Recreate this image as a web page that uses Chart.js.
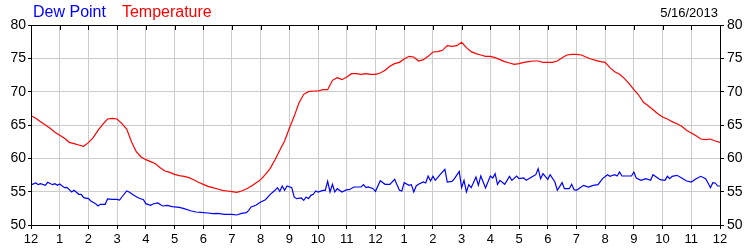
<!DOCTYPE html>
<html>
<head>
<meta charset="utf-8">
<script src="https://cdn.jsdelivr.net/npm/chart.js@4.4.1/dist/chart.umd.min.js"></script>
<style>
  body { margin: 0; background: #fff; }
</style>
</head>
<body>
<canvas id="myChart" width="750" height="250"></canvas>
<script>
// hour labels along the bottom axis
const hourLabels = ['12', '1', '2', '3', '4', '5', '6', '7', '8', '9', '10', '11',
                    '12', '1', '2', '3', '4', '5', '6', '7', '8', '9', '10', '11', '12'];
const yTicks = [50, 55, 60, 65, 70, 75, 80];
const dateText = '5/16/2013';

// temperature, one reading every 10 minutes from midnight
const TEMP_STEP = 10;
const temperature = [
  66.4, 66.0, 65.5, 65.0, 64.5, 63.9,
  63.45, 63.0, 62.4, 62.2, 62.0, 61.8,
  62.35, 63.1, 64.2, 65.1, 65.9, 66.0,
  65.9, 65.2, 64.4, 62.5, 61.0, 60.2,
  59.8, 59.5, 59.2, 58.6, 58.1, 57.9,
  57.6, 57.4, 57.3, 57.1, 56.8, 56.4,
  56.1, 55.8, 55.6, 55.4, 55.2, 55.1,
  55.0, 54.9, 55.1, 55.4, 55.8, 56.3,
  56.8, 57.6, 58.5, 59.8, 61.2, 62.6,
  64.5, 66.3, 68.3, 69.6, 70.0, 70.1,
  70.1, 70.3, 70.3, 71.7, 72.1, 71.8,
  72.2, 72.7, 72.7, 72.6, 72.7, 72.6,
  72.6, 72.8, 73.2, 73.8, 74.2, 74.4,
  74.9, 75.3, 75.2, 74.6, 74.8, 75.3,
  75.95, 76.0, 76.2, 76.9, 76.8, 76.9,
  77.4, 76.6, 76.0, 75.7, 75.5, 75.3,
  75.3, 75.1, 74.8, 74.5, 74.3, 74.1,
  74.2, 74.4, 74.5, 74.6, 74.6, 74.4,
  74.4, 74.4, 74.6, 75.1, 75.5, 75.6,
  75.6, 75.5, 75.2, 74.9, 74.7, 74.5,
  74.4, 73.6, 73.0, 72.6, 72.0, 71.2,
  70.3, 69.5, 68.4, 67.9, 67.3, 66.7,
  66.2, 65.9, 65.5, 65.2, 64.8, 64.2,
  63.8, 63.4, 62.9, 62.8, 62.9, 62.6,
  62.4
];

// dew point readings (minutes after midnight, degrees)
const dewMinutes = [
  0, 10, 15, 20, 30, 35, 45, 50, 55,
  60, 70, 75, 85, 90, 100, 105, 110,
  120, 125, 135, 140, 145, 155, 160, 170,
  180, 185, 190, 200, 205, 215, 225, 235,
  240, 250, 255, 265, 275, 285, 295,
  310, 320, 335, 345, 355,
  370, 380, 390, 405,
  420, 430, 440, 450, 455, 460, 470,
  480, 490, 500, 510, 515, 520, 525, 530, 535,
  545, 550, 555, 565, 570, 575, 580, 585, 590, 595,
  600, 610, 615, 620, 625, 630, 635, 640, 650,
  660, 665, 675, 685, 690, 695, 700, 705, 715,
  720, 730, 740, 750, 760, 765, 770, 775,
  780, 790, 795, 800, 805, 810, 820, 825, 830, 835,
  840, 845, 855, 865, 870, 880, 885, 895,
  900, 905, 910, 915, 920, 930, 935, 940, 945, 950,
  960, 965, 970, 975, 980, 990, 1000, 1005, 1015,
  1020, 1030, 1035, 1050, 1055, 1060, 1065, 1070,
  1080, 1085, 1095, 1100, 1110, 1115, 1125, 1130, 1135,
  1140, 1155, 1165, 1175, 1185, 1195,
  1205, 1210, 1220, 1225, 1230, 1235, 1250, 1255,
  1260, 1265, 1275, 1285, 1295, 1300, 1315,
  1325, 1330, 1335, 1340, 1350, 1360, 1370,
  1380, 1390, 1400, 1410, 1415, 1420, 1425, 1430, 1435, 1440
];
const dewPoint = [
  56.0, 56.3, 56.05, 56.2, 55.95, 56.4, 56.05, 56.2, 55.95,
  56.15, 55.6, 55.65, 54.95, 55.2, 54.6, 54.6, 54.1,
  53.95, 53.6, 53.2, 52.85, 53.1, 53.1, 53.9, 53.85,
  53.85, 53.75, 54.2, 55.1, 54.95, 54.45, 54.05, 53.8,
  53.2, 52.95, 53.15, 53.3, 52.85, 52.95, 52.75,
  52.65, 52.45, 52.1, 51.95, 51.9,
  51.8, 51.7, 51.75, 51.6,
  51.6, 51.5, 51.75, 51.85, 52.2, 52.7, 52.95,
  53.45, 53.8, 54.6, 55.2, 55.6, 55.05, 55.85, 55.2, 55.85,
  55.6, 54.2, 53.95, 54.05, 53.7, 54.2, 53.95, 54.45, 54.6, 55.1,
  54.95, 55.2, 55.2, 56.55, 54.95, 56.1, 54.95, 55.45, 54.95,
  55.3, 55.3, 55.7, 55.7, 55.7, 56.05, 55.6, 55.7, 55.45,
  55.05, 56.65, 56.1, 56.1, 56.85, 56.05, 55.2, 55.1,
  56.35, 55.95, 56.05, 54.95, 55.85, 56.1, 56.45, 56.3, 57.35, 56.6,
  57.3, 56.7, 57.55, 58.35, 56.45, 56.55, 56.95, 58.05,
  55.6, 56.7, 54.95, 56.05, 55.6, 57.2, 55.95, 57.35, 56.45, 55.55,
  57.35, 57.05, 57.7, 56.1, 56.7, 56.1, 57.3, 56.7, 57.35,
  56.95, 57.05, 56.7, 57.35, 57.55, 58.45, 56.95, 57.7,
  56.85, 57.55, 56.45, 55.2, 56.35, 55.45, 55.45, 56.1, 55.3,
  55.2, 55.95, 55.7, 55.95, 56.05, 57.0,
  57.55, 57.3, 57.55, 57.35, 57.95, 57.35, 57.35, 57.35,
  57.95, 57.05, 56.7, 56.95, 56.7, 57.55, 56.8,
  56.7, 57.3, 56.95, 57.3, 57.45, 57.05, 56.6,
  56.45, 56.95, 57.3, 56.95, 56.3, 55.6, 56.35, 56.3, 55.85, 55.85
];

const FONT = "'Liberation Sans', Arial, sans-serif";

const tempPoints = temperature.map(function (v, i) { return { x: i * TEMP_STEP, y: v }; });
const dewPoints = dewPoint.map(function (v, i) { return { x: dewMinutes[i], y: v }; });

// frame round the plot, inward ticks on top, plus legend text and date
const framePlugin = {
  id: 'frame',
  afterDraw: function (chart) {
    const ctx = chart.ctx;
    const a = chart.chartArea;
    const xs = chart.scales.x;
    ctx.save();
    ctx.strokeStyle = '#000';
    ctx.lineWidth = 1;
    ctx.beginPath();
    ctx.rect(Math.round(a.left) + 0.5, Math.round(a.top) + 0.5,
             Math.round(a.right - a.left), Math.round(a.bottom - a.top));
    xs.ticks.forEach(function (t) {
      const px = Math.round(xs.getPixelForValue(t.value)) + 0.5;
      ctx.moveTo(px, a.top);
      ctx.lineTo(px, a.top + 5);
    });
    ctx.stroke();

    ctx.font = '16px ' + FONT;
    ctx.textBaseline = 'alphabetic';
    ctx.textAlign = 'left';
    let x = 33;
    chart.data.datasets.slice().reverse().forEach(function (ds) {
      ctx.fillStyle = ds.borderColor;
      ctx.fillText(ds.label, x, 17);
      x += ctx.measureText(ds.label).width + 16;
    });

    ctx.font = '13px ' + FONT;
    ctx.fillStyle = '#000';
    ctx.textAlign = 'right';
    ctx.fillText(dateText, 718, 17);
    ctx.restore();
  }
};

var ctx = document.getElementById('myChart').getContext('2d');

const myChart = new Chart(ctx, {
  type: 'line',
  data: {
    datasets: [
      {
        label: 'Temperature',
        data: tempPoints,
        borderColor: '#ff0000',
        borderWidth: 1.2,
        pointRadius: 0,
        tension: 0,
        yAxisID: 'y'
      },
      {
        label: 'Dew Point',
        data: dewPoints,
        borderColor: '#0000ff',
        borderWidth: 1.2,
        pointRadius: 0,
        tension: 0,
        yAxisID: 'y'
      }
    ]
  },
  options: {
    responsive: false,
    animation: false,
    devicePixelRatio: 1,
    layout: { padding: { top: 25, left: 0, right: 0, bottom: 0 } },
    plugins: {
      legend: { display: false },
      tooltip: { enabled: false }
    },
    scales: {
      x: {
        type: 'linear',
        min: 0,
        max: 1440,
        afterFit: function (s) { s.height = 25; },
        ticks: {
          stepSize: 60,
          autoSkip: false,
          maxRotation: 0,
          padding: 3,
          color: '#000',
          font: { family: FONT, size: 13 },
          callback: function (value, index) { return hourLabels[index]; }
        },
        grid: { color: '#cccccc', tickColor: '#000', tickLength: 4 },
        border: { color: '#000' }
      },
      y: {
        position: 'left',
        min: yTicks[0],
        max: yTicks[yTicks.length - 1],
        afterFit: function (s) { s.width = 31; },
        ticks: {
          stepSize: 5,
          padding: 2,
          color: '#000',
          font: { family: FONT, size: 14 }
        },
        grid: { color: '#cccccc', tickColor: '#000', tickLength: 3 },
        border: { color: '#000' }
      },
      y2: {
        position: 'right',
        min: yTicks[0],
        max: yTicks[yTicks.length - 1],
        afterFit: function (s) { s.width = 30; },
        ticks: {
          stepSize: 5,
          padding: 3,
          color: '#000',
          font: { family: FONT, size: 14 }
        },
        grid: { drawOnChartArea: false, tickColor: '#000', tickLength: 4 },
        border: { color: '#000' }
      }
    }
  },
  plugins: [framePlugin]
});
</script>
</body>
</html>
